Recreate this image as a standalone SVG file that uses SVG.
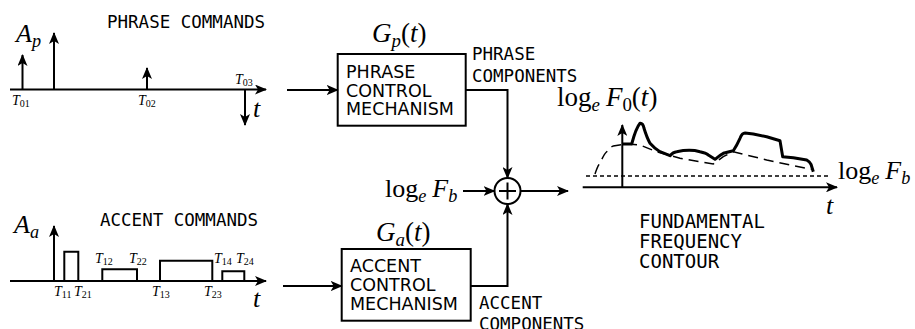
<svg xmlns="http://www.w3.org/2000/svg" width="915" height="329" viewBox="0 0 915 329">
<style>
.ln{stroke:#000;stroke-width:2;fill:none}
.ar{stroke:#000;stroke-width:2;fill:none;marker-end:url(#ah)}
.box{stroke:#000;stroke-width:2;fill:#fff}
.mono{font-family:"DejaVu Sans Mono",monospace;font-size:17.5px;fill:#000}
.sans{font-family:"DejaVu Sans",sans-serif;font-size:17.5px;fill:#000}
.big{font-family:"DejaVu Sans Mono",monospace;font-size:19px;fill:#000}
.m{font-family:"Liberation Serif",serif;fill:#000}
.it{font-style:italic}
.up{font-style:normal}
.tl{font-family:"Liberation Serif",serif;font-style:italic;font-size:14px;fill:#000}
.d{font-size:10px;font-style:normal}
.sub{font-size:70%}
</style>
<defs>
<marker id="ah" markerUnits="userSpaceOnUse" markerWidth="12" markerHeight="10" refX="11" refY="5" orient="auto">
<path d="M0,0 L12,5 L0,10 L3,5 z" fill="#000"/>
</marker>
</defs>

<g id="phrase-commands">
<text class="mono" x="107" y="28">PHRASE COMMANDS</text>
<line class="ar" x1="10" y1="89.5" x2="266" y2="89.5"/>
<line class="ar" x1="22.5" y1="89.5" x2="22.5" y2="55"/>
<line class="ar" x1="54" y1="89.5" x2="54" y2="33"/>
<line class="ar" x1="147" y1="89.5" x2="147" y2="68"/>
<line class="ar" x1="245" y1="89.5" x2="245" y2="125"/>
<text class="m it" x="16" y="42" font-size="26">A<tspan class="sub" dy="5">p</tspan></text>
<text class="tl" x="12" y="105">T<tspan class="d" dy="2">01</tspan></text>
<text class="tl" x="138" y="105">T<tspan class="d" dy="2">02</tspan></text>
<text class="tl" x="235" y="84">T<tspan class="d" dy="2">03</tspan></text>
<text class="m it" x="253" y="117" font-size="26">t</text>
</g>

<g id="accent-commands">
<text class="mono" x="100" y="226">ACCENT COMMANDS</text>
<line class="ar" x1="10" y1="281" x2="266" y2="281"/>
<line class="ar" x1="54" y1="281" x2="54" y2="226"/>
<path class="ln" d="M64.3,281 V251.7 H78.3 V281 M102.3,281 V269.3 H137 V281 M160,281 V260.7 H212.3 V281 M222.3,281 V271.3 H244.3 V281"/>
<text class="m it" x="14" y="233" font-size="26">A<tspan class="sub" dy="5">a</tspan></text>
<text class="tl" x="54" y="296">T<tspan class="d" dy="2">11</tspan></text>
<text class="tl" x="74" y="296">T<tspan class="d" dy="2">21</tspan></text>
<text class="tl" x="95" y="263">T<tspan class="d" dy="2">12</tspan></text>
<text class="tl" x="129" y="263">T<tspan class="d" dy="2">22</tspan></text>
<text class="tl" x="152" y="296">T<tspan class="d" dy="2">13</tspan></text>
<text class="tl" x="204" y="296">T<tspan class="d" dy="2">23</tspan></text>
<text class="tl" x="214" y="263">T<tspan class="d" dy="2">14</tspan></text>
<text class="tl" x="236" y="263">T<tspan class="d" dy="2">24</tspan></text>
<text class="m it" x="253" y="307" font-size="26">t</text>
</g>

<g id="phrase-control">
<rect class="box" x="337.7" y="54" width="128" height="71.7"/>
<text class="sans" x="346" y="78">PHRASE</text>
<text class="sans" x="346" y="96.5">CONTROL</text>
<text class="sans" x="346" y="114.5">MECHANISM</text>
<text class="m it" x="372" y="42" font-size="27">G<tspan class="sub" dy="5">p</tspan><tspan class="up" dy="-5">(</tspan>t<tspan class="up">)</tspan></text>
<text class="mono" x="472" y="60">PHRASE</text>
<text class="mono" x="472" y="81.7">COMPONENTS</text>
</g>

<g id="accent-control">
<rect class="box" x="341.7" y="249" width="129" height="71.7"/>
<text class="sans" x="350" y="271.7">ACCENT</text>
<text class="sans" x="350" y="290.7">CONTROL</text>
<text class="sans" x="350" y="309.7">MECHANISM</text>
<text class="m it" x="376" y="240.5" font-size="27">G<tspan class="sub" dy="5">a</tspan><tspan class="up" dy="-5">(</tspan>t<tspan class="up">)</tspan></text>
<text class="mono" x="479" y="309">ACCENT</text>
<text class="mono" x="479" y="330">COMPONENTS</text>
</g>

<g id="sum">
<circle cx="507.5" cy="191" r="13" stroke="#000" stroke-width="2" fill="#fff"/>
<path class="ln" d="M499,191 H516 M507.5,182.5 V199.5"/>
<text class="m" x="385" y="197" font-size="26">log<tspan class="sub it" dy="5">e</tspan><tspan class="it" dy="-5" dx="6">F</tspan><tspan class="sub it" dy="5">b</tspan></text>
</g>

<g id="f0-contour">
<line class="ar" x1="582.7" y1="187.3" x2="837" y2="187.3"/>
<line class="ar" x1="622.3" y1="187.3" x2="622.3" y2="125"/>
<line x1="586" y1="176" x2="830" y2="176" stroke="#000" stroke-width="1.5" stroke-dasharray="4,3"/>
<path d="M595,174 Q598,165 600,163.3 Q604,154 606.7,151.7 Q610,147 613.3,146 L626.7,144 L640,145 L656.7,151.7 L680,158.3 L713.3,164 L723.3,156.7 L733.3,151.7 L766.7,160 L786.7,164.3 L811.7,169.3" fill="none" stroke="#000" stroke-width="1.5" stroke-dasharray="10,6"/>
<path d="M622.3,144 L631.7,144 Q636,128 640,123.3 Q643,123 644,128.3 Q647,138 650,143.3 Q655,149 660,151.7 L670,155.7 Q673,152 676.7,151.7 Q690,149 700,151.7 Q706,153 708.3,155 L715,159.3 Q720,155 723.3,153.3 L733.3,150.7 Q737,145 740,138.3 Q742,133 745,133 L753.3,134 L766.7,136.7 L780,140.7 L782.7,156.7 L793.3,157.7 L806.7,160 Q810,162 811,164.3 L813.3,171.7" fill="none" stroke="#000" stroke-width="3" stroke-linejoin="round"/>
<text class="m" x="557" y="106" font-size="27">log<tspan class="sub it" dy="5">e</tspan><tspan class="it" dy="-5" dx="6">F</tspan><tspan class="sub" dy="5">0</tspan><tspan dy="-5">(</tspan><tspan class="it">t</tspan>)</text>
<text class="m" x="838" y="179" font-size="26">log<tspan class="sub it" dy="5">e</tspan><tspan class="it" dy="-5" dx="6">F</tspan><tspan class="sub it" dy="5">b</tspan></text>
<text class="m it" x="826" y="214" font-size="26">t</text>
<text class="big" x="639" y="228">FUNDAMENTAL</text>
<text class="big" x="639" y="248">FREQUENCY</text>
<text class="big" x="639" y="268">CONTOUR</text>
</g>

<g id="connectors">
<line class="ar" x1="287" y1="90" x2="337.7" y2="90"/>
<polyline class="ar" points="465.7,90 507.5,90 507.5,178"/>
<line class="ar" x1="283" y1="286" x2="341.7" y2="286"/>
<polyline class="ar" points="470.7,286 507.5,286 507.5,204"/>
<line class="ar" x1="463" y1="191" x2="494.5" y2="191"/>
<line class="ar" x1="520.5" y1="191" x2="568" y2="191"/>
</g>
</svg>
